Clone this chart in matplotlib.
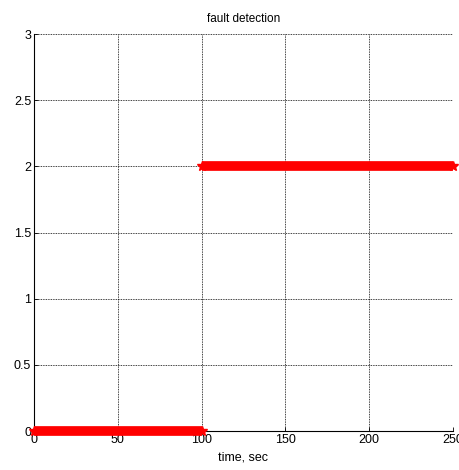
import matplotlib.pyplot as plt

plt.rcParams['font.family'] = ['Liberation Sans', 'DejaVu Sans']

# fault flag over time (two constant stretches)
t_ok = [0, 100]
flag_ok = [0, 0]
t_fault = [100, 250]
flag_fault = [2, 2]

xticks = [0, 50, 100, 150, 200, 250]
yticks = [0, 0.5, 1, 1.5, 2, 2.5, 3]

fig = plt.figure(figsize=(4.6, 4.7), dpi=100)
ax = fig.add_axes([34/460, 39/470, 419/460, 397/470])

for t, f in [(t_ok, flag_ok), (t_fault, flag_fault)]:
    ax.plot(t, f, color='red', linewidth=7, solid_capstyle='butt',
            marker='*', markersize=7, markeredgewidth=1, clip_on=False, zorder=3)

ax.set_xlim(0, 250)
ax.set_ylim(0, 3)
ax.set_xticks(xticks)
ax.set_yticks(yticks)
ax.set_xticklabels([str(v) for v in xticks])
ax.set_yticklabels(['0', '0.5', '1', '1.5', '2', '2.5', '3'])
ax.tick_params(direction='in', length=3, width=0.6, labelsize=9, pad=2,
               top=False, right=False)
ax.grid(True, color='black', linestyle=(0, (1, 1)), linewidth=0.6)

ax.spines['top'].set_visible(False)
ax.spines['right'].set_visible(False)
ax.spines['left'].set_linewidth(0.8)
ax.spines['bottom'].set_linewidth(0.8)

ax.set_title('fault detection', fontsize=8.5, pad=9)
ax.set_xlabel('time, sec', fontsize=9, labelpad=4)

fig.savefig('out.png')
